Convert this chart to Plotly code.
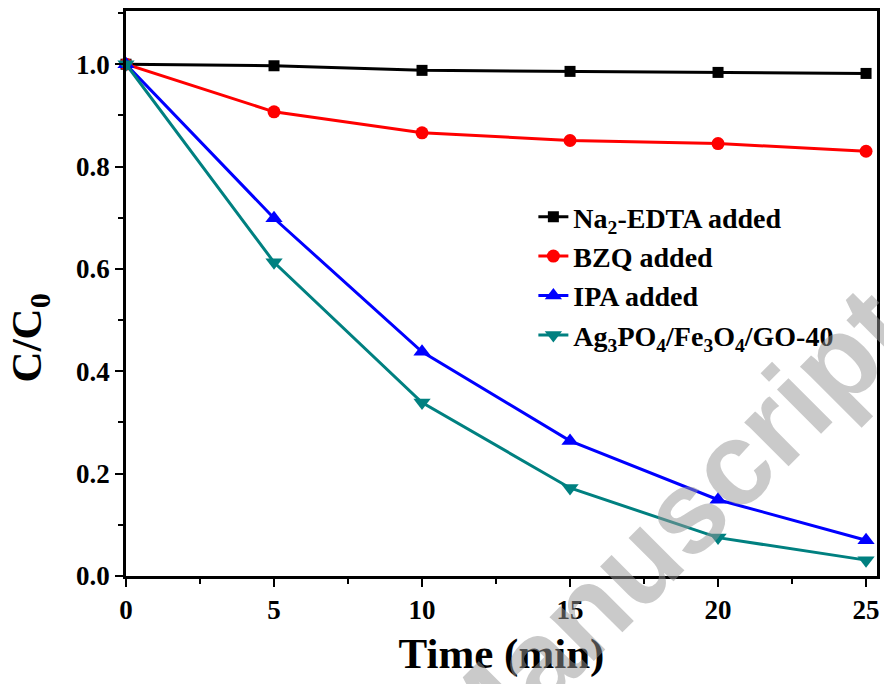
import plotly.graph_objects as go

time_min = [0, 5, 10, 15, 20, 25]
edta = [1.0, 0.997, 0.988, 0.986, 0.984, 0.982]
bzq = [1.0, 0.907, 0.866, 0.851, 0.845, 0.830]
ipa = [1.0, 0.699, 0.438, 0.264, 0.149, 0.070]
ag = [1.0, 0.613, 0.339, 0.172, 0.075, 0.031]

names = ["Na<sub>2</sub>-EDTA added", "BZQ added", "IPA added",
         "Ag<sub>3</sub>PO<sub>4</sub>/Fe<sub>3</sub>O<sub>4</sub>/GO-40"]
series = [edta, bzq, ipa, ag]
colors = ["#000000", "#ff0000", "#0000ff", "#008080"]
symbols = ["square", "circle", "triangle-up", "triangle-down"]
msizes = [11, 13, 15, 15]

fig = go.Figure()
for n, s, c, m, ms in zip(names, series, colors, symbols, msizes):
    fig.add_trace(go.Scatter(
        x=time_min, y=s, name=n, mode="lines+markers",
        line=dict(color=c, width=3),
        marker=dict(symbol=m, size=ms, color=c),
        cliponaxis=False))

W, H = 884, 684
L, R, T, B = 126, 4, 11, 108
pw, ph = W - L - R, H - T - B

def px(x):
    return (x - L) / pw

def py(y):
    return (H - B - y) / ph

font = "Liberation Serif, Times New Roman, serif"
axis_common = dict(
    showline=True, linecolor="black", linewidth=2.5, mirror=True,
    ticks="outside", ticklen=8, tickwidth=2, tickcolor="black",
    showgrid=False, zeroline=False,
    tickfont=dict(family=font, size=27, color="black", weight="bold"),
)

fig.update_layout(
    width=W, height=H,
    margin=dict(l=L, r=R, t=T, b=B),
    paper_bgcolor="white", plot_bgcolor="white",
    font=dict(family=font, color="black"),
    xaxis=dict(range=[0, 25.37], dtick=5, tick0=0,
               minor=dict(ticks="outside", ticklen=5, tickwidth=2, dtick=2.5, tickcolor="black"),
               title=dict(text="Time (min)", standoff=14,
                          font=dict(family=font, size=43, color="black", weight="bold")),
               **axis_common),
    yaxis=dict(range=[0, 1.104], dtick=0.2, tick0=0, tickformat=".1f",
               minor=dict(ticks="outside", ticklen=5, tickwidth=2, dtick=0.1, tickcolor="black"),
               **axis_common),
    legend=dict(x=px(535), y=py(192), xanchor="left", yanchor="top",
                bgcolor="rgba(0,0,0,0)",
                font=dict(family=font, size=28, color="black", weight="bold"),
                tracegroupgap=4),
    showlegend=True,
)

# y-axis title (placed as annotation to match the reference offset)
fig.add_annotation(
    text="C/C<sub>0</sub>", xref="paper", yref="paper",
    x=px(30), y=py(338), xanchor="center", yanchor="middle",
    showarrow=False, textangle=-90,
    font=dict(family=font, size=43, color="black", weight="bold"),
)

# watermark
fig.add_annotation(
    text="Manuscript", xref="paper", yref="paper",
    x=px(668), y=py(531), xanchor="center", yanchor="middle",
    showarrow=False, textangle=-45,
    font=dict(family="Liberation Sans, Arial, sans-serif", size=118,
              color="rgba(150,150,150,0.5)", weight="bold"),
)

fig.write_html("out.html")
